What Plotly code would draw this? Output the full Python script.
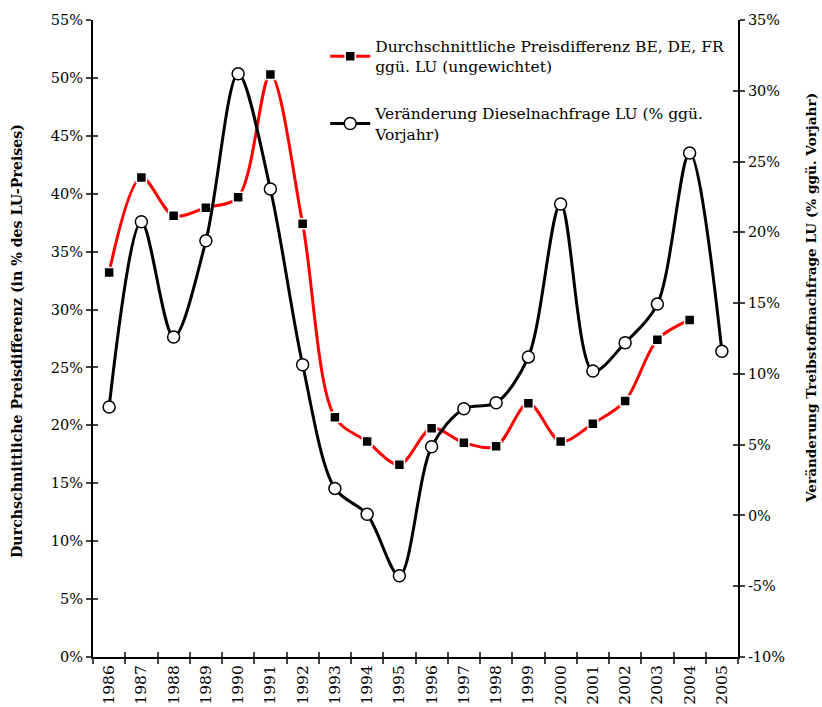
import plotly.graph_objects as go

years = [str(y) for y in range(1986, 2006)]
preisdiff = [33.2, 41.4, 38.1, 38.8, 39.7, 50.3, 37.4, 20.7, 18.6, 16.6,
             19.75, 18.5, 18.2, 21.9, 18.6, 20.15, 22.1, 27.4, 29.1, None]
diesel = [7.66, 20.75, 12.6, 19.4, 31.2, 23.06, 10.65, 1.91, 0.08, -4.26,
          4.85, 7.54, 7.96, 11.2, 22.0, 10.2, 12.2, 14.93, 25.6, 11.6]
left_ticks = list(range(0, 56, 5))
right_ticks = list(range(-10, 36, 5))

FONT = "DejaVu Serif"

fig = go.Figure()
fig.add_trace(go.Scatter(
    x=years, y=preisdiff, mode="lines+markers",
    name="Durchschnittliche Preisdifferenz BE, DE, FR<br>ggü. LU (ungewichtet)",
    line=dict(color="#ff0000", width=3, shape="spline", smoothing=0.9),
    marker=dict(symbol="square", size=10, color="black", line=dict(color="white", width=1.5)),
    yaxis="y", legendgroup="a"))
fig.add_trace(go.Scatter(
    x=years, y=diesel, mode="lines+markers",
    name="Veränderung Dieselnachfrage LU (% ggü.<br>Vorjahr)",
    line=dict(color="black", width=3, shape="spline", smoothing=0.9),
    marker=dict(symbol="circle", size=12, color="white", line=dict(color="black", width=1.5)),
    yaxis="y2", legendgroup="b"))

common_y = dict(ticklen=5, tickwidth=1.5, showgrid=False, zeroline=False, automargin=False)

fig.update_layout(
    width=822, height=707,
    margin=dict(l=93, r=84, t=20, b=50),
    paper_bgcolor="white", plot_bgcolor="white",
    font=dict(family=FONT, size=14, color="black"),
    showlegend=True,
    legend=dict(x=0.36, y=0.985, xanchor="left", yanchor="top",
                bgcolor="rgba(0,0,0,0)", font=dict(size=15.5),
                tracegroupgap=24, traceorder="grouped", itemwidth=40),
    xaxis=dict(type="category", categoryorder="array", categoryarray=years,
               tickangle=-90, ticks="outside", ticklen=5, tickwidth=1.5,
               tickson="boundaries", showline=True, linecolor="black", linewidth=2,
               showgrid=False, zeroline=False, tickfont=dict(size=15.5),
               range=[-0.5, 19.5], automargin=False),
    yaxis=dict(range=[0, 55], tickvals=left_ticks,
               ticktext=[f"{v}%" for v in left_ticks],
               ticks="outside", showline=True, linecolor="black", linewidth=2,
               tickfont=dict(size=14.5), **common_y),
    yaxis2=dict(range=[-10, 35], tickvals=right_ticks,
                ticktext=[f"{v}%" for v in right_ticks],
                overlaying="y", side="right",
                ticks="outside", showline=True, linecolor="black", linewidth=2,
                tickfont=dict(size=14.5), **common_y),
    yaxis3=dict(range=[0, 55], tickvals=left_ticks, overlaying="y", side="left",
                ticks="inside", showticklabels=False, showline=False, **common_y),
    yaxis4=dict(range=[-10, 35], tickvals=right_ticks, overlaying="y", side="right",
                ticks="inside", showticklabels=False, showline=False, **common_y),
    xaxis2=dict(type="category", categoryorder="array", categoryarray=years,
                overlaying="x", side="bottom", anchor="y",
                ticks="inside", ticklen=5, tickwidth=1.5, tickson="boundaries",
                showticklabels=False, showline=False, showgrid=False, zeroline=False,
                range=[-0.5, 19.5], automargin=False),
    annotations=[
        dict(text="<b>Durchschnittliche Preisdifferenz (in % des LU-Preises)</b>",
             textangle=-90, xref="paper", yref="paper", x=-0.118, y=0.496,
             xanchor="center", yanchor="middle", showarrow=False, font=dict(size=14.2)),
        dict(text="<b>Veränderung Treibstoffnachfrage LU (% ggü. Vorjahr)</b>",
             textangle=-90, xref="paper", yref="paper", x=1.1135, y=0.564,
             xanchor="center", yanchor="middle", showarrow=False, font=dict(size=13.6)),
    ],
)
fig.add_trace(go.Scatter(x=[years[0]], y=[0], yaxis="y3", mode="markers",
                         marker=dict(opacity=0), showlegend=False, hoverinfo="skip"))
fig.add_trace(go.Scatter(x=[years[0]], y=[0], yaxis="y4", mode="markers",
                         marker=dict(opacity=0), showlegend=False, hoverinfo="skip"))
fig.add_trace(go.Scatter(x=[years[0]], y=[0], xaxis="x2", mode="markers",
                         marker=dict(opacity=0), showlegend=False, hoverinfo="skip"))

fig.write_html("out.html", config={"displayModeBar": False},
               post_script="document.body.style.margin='0';document.body.style.overflow='hidden';")
